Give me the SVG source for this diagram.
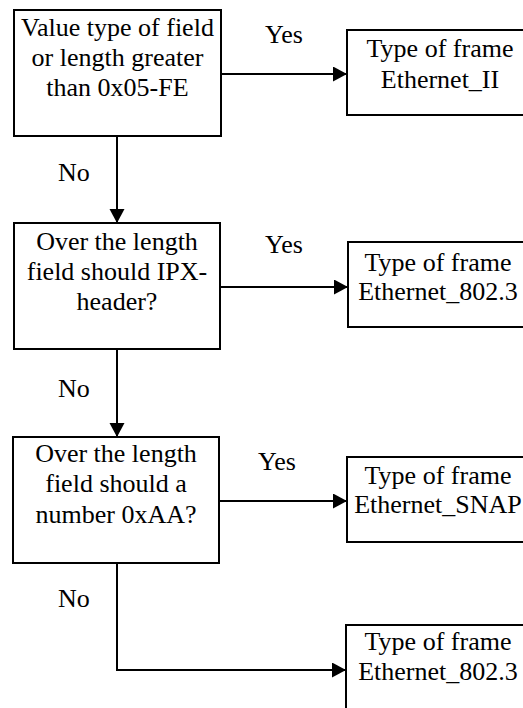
<svg xmlns="http://www.w3.org/2000/svg" width="523" height="708" viewBox="0 0 523 708">
  <style>
    .box { fill: #ffffff; stroke: #000000; stroke-width: 2; }
    .wire { fill: none; stroke: #000000; stroke-width: 2; }
  </style>
  <defs>
    <marker id="arrow" markerUnits="userSpaceOnUse" markerWidth="16" markerHeight="16" refX="14" refY="7.5" orient="auto">
      <path d="M0,0 L14,7.5 L0,15 Z" fill="#000000"/>
    </marker>
  </defs>

  <rect width="523" height="708" fill="#ffffff"/>

  <!-- connectors -->
  <g id="connectors">
    <path class="wire" d="M221,74 L347,74" marker-end="url(#arrow)"/>
    <path class="wire" d="M117,136 L117,223" marker-end="url(#arrow)"/>
    <path class="wire" d="M220,287 L348,287" marker-end="url(#arrow)"/>
    <path class="wire" d="M117,349 L117,437" marker-end="url(#arrow)"/>
    <path class="wire" d="M219,501 L347,501" marker-end="url(#arrow)"/>
    <path class="wire" d="M117,563 L117,670 L346,670" marker-end="url(#arrow)"/>
  </g>

  <!-- all labels share one font setup -->
  <g font-family="Liberation Serif" font-size="26" fill="#000000">
    <g id="edge-labels">
      <text x="265" y="43">Yes</text>
      <text x="58" y="181">No</text>
      <text x="265" y="253">Yes</text>
      <text x="58" y="397">No</text>
      <text x="258" y="470">Yes</text>
      <text x="58" y="607">No</text>
    </g>

    <!-- decision 1 -->
    <g id="q1" text-anchor="middle">
      <rect class="box" x="14" y="10" width="207" height="126"/>
      <text x="117.5" y="36">Value type of field</text>
      <text x="117.5" y="66">or length greater</text>
      <text x="117.5" y="96">than 0x05-FE</text>
    </g>

    <!-- result: Ethernet_II -->
    <g id="r1" text-anchor="middle">
      <rect class="box" x="347" y="30" width="190" height="85"/>
      <text x="440" y="57">Type of frame</text>
      <text x="440" y="88">Ethernet_II</text>
    </g>

    <!-- decision 2 -->
    <g id="q2" text-anchor="middle">
      <rect class="box" x="14" y="223" width="206" height="126"/>
      <text x="117" y="250">Over the length</text>
      <text x="117" y="280">field should IPX-</text>
      <text x="117" y="310">header?</text>
    </g>

    <!-- result: Ethernet_802.3 -->
    <g id="r2" text-anchor="middle">
      <rect class="box" x="348" y="242" width="190" height="85"/>
      <text x="438" y="271">Type of frame</text>
      <text x="438" y="300">Ethernet_802.3</text>
    </g>

    <!-- decision 3 -->
    <g id="q3" text-anchor="middle">
      <rect class="box" x="13" y="437" width="206" height="126"/>
      <text x="116" y="462">Over the length</text>
      <text x="116" y="492">field should a</text>
      <text x="116" y="523">number 0xAA?</text>
    </g>

    <!-- result: Ethernet_SNAP -->
    <g id="r3" text-anchor="middle">
      <rect class="box" x="347" y="457" width="190" height="85"/>
      <text x="438" y="484">Type of frame</text>
      <text x="438" y="513">Ethernet_SNAP</text>
    </g>

    <!-- result: Ethernet_802.3 (fallback) -->
    <g id="r4" text-anchor="middle">
      <rect class="box" x="346" y="625" width="190" height="85"/>
      <text x="438" y="650">Type of frame</text>
      <text x="438" y="680">Ethernet_802.3</text>
    </g>
  </g>
</svg>
